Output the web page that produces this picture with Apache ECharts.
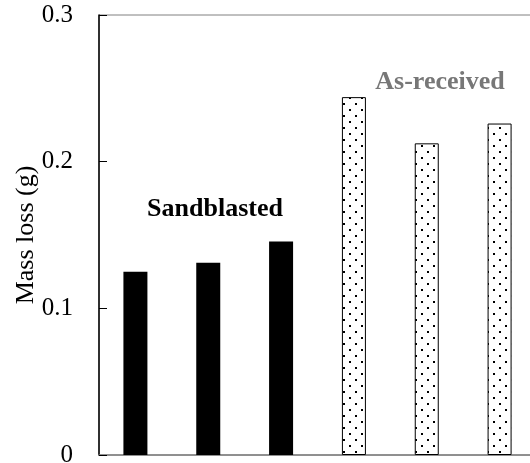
<!DOCTYPE html>
<html>
<head>
<meta charset="utf-8">
<script src="https://cdn.jsdelivr.net/npm/echarts@6/dist/echarts.min.js"></script>
<style>
  html, body { margin: 0; padding: 0; background: #fff; }
  #chart { width: 530px; height: 463px; }
</style>
</head>
<body>
<div id="chart"></div>
<script>
// samples (no x labels in the original)
var categories = ['S1', 'S2', 'S3', 'A1', 'A2', 'A3'];
var sandblasted = [0.125, 0.131, 0.1455, '-', '-', '-'];
var asReceived = ['-', '-', '-', 0.244, 0.2125, 0.226];
var yTicks = [0, 0.1, 0.2, 0.3];

// dotted fill for the as-received bars
function dotPattern() {
    var c = document.createElement('canvas');
    c.width = 12;
    c.height = 12;
    var ctx = c.getContext('2d');
    ctx.fillStyle = '#fff';
    ctx.fillRect(0, 0, 12, 12);
    ctx.fillStyle = '#000';
    ctx.fillRect(1, 1, 2, 2);
    ctx.fillRect(7, 7, 2, 2);
    return c;
}

var chart = echarts.init(document.getElementById('chart'));
var serif = '"Liberation Serif", "Times New Roman", serif';

var option = {
    animation: false,
    grid: {
        left: 99, right: -6, top: 15, bottom: 8,
        outerBoundsMode: 'none',
        containLabel: false,
        show: true,
        borderColor: '#808080',
        borderWidth: 1,
        backgroundColor: 'transparent'
    },
    xAxis: {
        type: 'category',
        data: categories,
        axisLine: { lineStyle: { color: '#808080', width: 1.5 } },
        axisTick: { show: false },
        axisLabel: { show: false }
    },
    yAxis: {
        type: 'value',
        min: yTicks[0],
        max: yTicks[yTicks.length - 1],
        interval: 0.1,
        name: 'Mass loss (g)',
        nameLocation: 'middle',
        nameGap: 60,
        nameMoveOverlap: false,
        nameTextStyle: { fontFamily: serif, fontSize: 26, color: '#000' },
        axisLine: { show: true, lineStyle: { color: '#000', width: 1.5 } },
        axisTick: { show: true, inside: true, length: 8, lineStyle: { color: '#000' } },
        axisLabel: {
            margin: 26,
            fontFamily: serif,
            fontSize: 25,
            color: '#000',
            formatter: function (v) { return v === 0 ? '0' : v.toFixed(1); }
        },
        splitLine: { show: false }
    },
    graphic: [
        {
            type: 'text', x: 215, y: 209,
            style: {
                text: 'Sandblasted', fontFamily: serif, fontSize: 26, fontWeight: 'bold',
                fill: '#000', textAlign: 'center', textVerticalAlign: 'middle'
            }
        },
        {
            type: 'text', x: 440, y: 82,
            style: {
                text: 'As-received', fontFamily: serif, fontSize: 26, fontWeight: 'bold',
                fill: '#777', textAlign: 'center', textVerticalAlign: 'middle'
            }
        }
    ],
    series: [
        {
            name: 'Sandblasted',
            type: 'bar',
            barWidth: 24,
            barGap: '-100%',
            data: sandblasted,
            itemStyle: { color: '#000' }
        },
        {
            name: 'As-received',
            type: 'bar',
            barWidth: 24,
            barGap: '-100%',
            data: asReceived,
            itemStyle: {
                color: { image: dotPattern(), repeat: 'repeat' },
                borderColor: '#000',
                borderWidth: 1
            }
        }
    ]
};
chart.setOption(option);
</script>
</body>
</html>
